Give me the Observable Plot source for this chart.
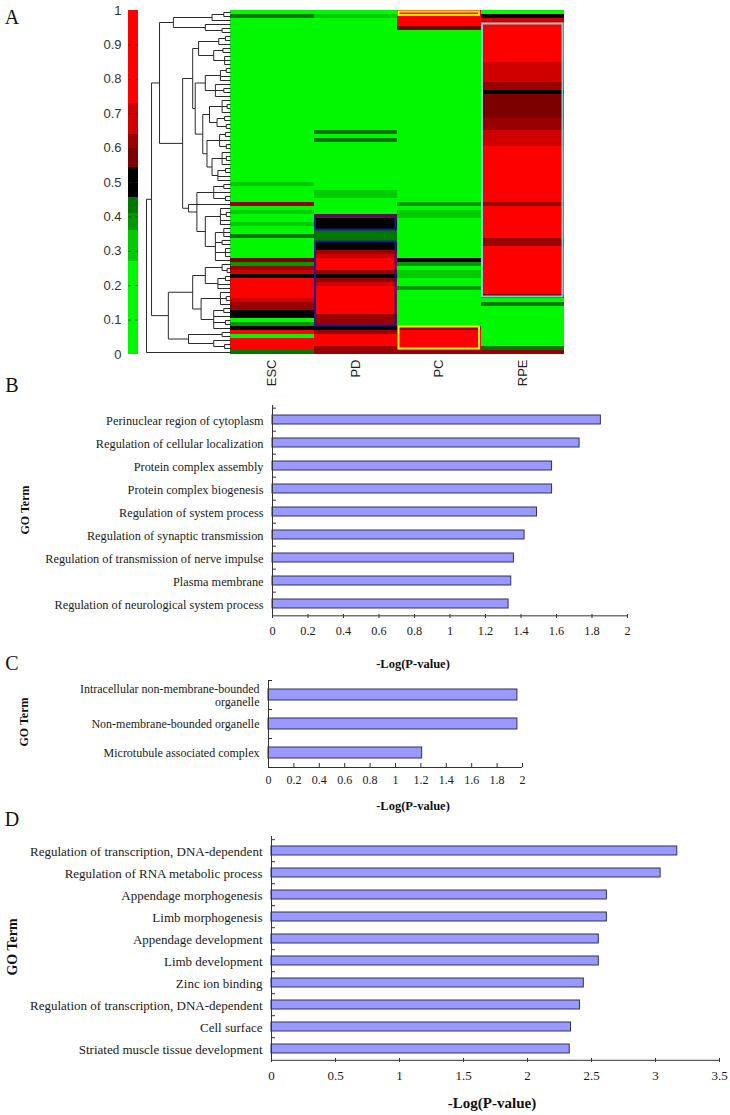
<!DOCTYPE html>
<html><head><meta charset="utf-8">
<script src="https://cdn.jsdelivr.net/npm/d3@7"></script>
<script src="https://cdn.jsdelivr.net/npm/@observablehq/plot@0.6"></script>
<style>
body{margin:0;background:#fff;}
#fig{position:relative;width:730px;height:1115px;overflow:hidden;background:#fff;}
.lbl{position:absolute;font-family:"Liberation Serif",serif;color:#111;white-space:nowrap;line-height:1;}
.rot{transform:translate(-50%,-50%) rotate(-90deg);}
.ctr{transform:translate(-50%,-50%);}
</style></head><body><div id="fig"></div>
<script>
// ---------------- DATA ----------------
const heatColumns = ["ESC", "PD", "PC", "RPE"];
const escValues = [
 0.1,0.42,0.1,0.1,0.1,0.1,0.1,0.1,0.1,0.1,
 0.1,0.1,0.1,0.1,0.1,0.1,0.1,0.1,0.1,0.1,
 0.1,0.1,0.1,0.1,0.1,0.1,0.1,0.1,0.1,0.1,
 0.1,0.1,0.1,0.1,0.1,0.1,0.1,0.1,0.1,0.1,
 0.1,0.1,0.1,0.3,0.1,0.1,0.1,0.1,0.6,0.1,
 0.3,0.1,0.1,0.32,0.1,0.1,0.42,0.1,0.1,0.1,
 0.1,0.1,0.55,0.4,0.6,0.65,0.5,0.85,0.85,0.85,
 0.85,0.85,0.7,0.6,0.6,0.5,0.5,0.1,0.4,0.5,
 0.85,0.25,0.85,0.85,0.85,0.42];
const pdValues = [
 0.1,0.3,0.1,0.1,0.1,0.1,0.1,0.1,0.1,0.1,
 0.1,0.1,0.1,0.1,0.1,0.1,0.1,0.1,0.1,0.1,
 0.1,0.1,0.1,0.1,0.1,0.1,0.1,0.1,0.1,0.1,
 0.42,0.1,0.42,0.1,0.1,0.1,0.1,0.1,0.1,0.1,
 0.1,0.1,0.1,0.1,0.1,0.3,0.3,0.1,0.1,0.1,
 0.1,0.6,0.5,0.5,0.5,0.45,0.42,0.42,0.5,0.5,
 0.6,0.65,0.85,0.85,0.85,0.62,0.5,0.6,0.65,0.85,
 0.85,0.85,0.85,0.75,0.75,0.75,0.6,0.6,0.6,0.52,
 0.6,0.85,0.85,0.85,0.6,0.6];
const pcValues = [
 0.85,0.85,0.8,0.8,0.55,0.1,0.1,0.1,0.1,0.1,
 0.1,0.1,0.1,0.1,0.1,0.1,0.1,0.1,0.1,0.1,
 0.1,0.1,0.1,0.1,0.1,0.1,0.1,0.1,0.1,0.1,
 0.1,0.1,0.1,0.1,0.1,0.1,0.1,0.1,0.1,0.1,
 0.1,0.1,0.1,0.1,0.1,0.1,0.1,0.1,0.4,0.1,
 0.32,0.32,0.1,0.1,0.1,0.1,0.1,0.1,0.1,0.1,
 0.1,0.1,0.5,0.4,0.1,0.32,0.32,0.1,0.1,0.4,
 0.1,0.1,0.1,0.1,0.1,0.1,0.1,0.1,0.1,0.6,
 0.85,0.85,0.85,0.85,0.85,0.6];
const rpeValues = [
 0.1,0.52,0.7,0.85,0.85,0.85,0.85,0.85,0.85,0.85,
 0.85,0.85,0.85,0.72,0.72,0.72,0.72,0.72,0.6,0.6,
 0.5,0.58,0.58,0.58,0.58,0.58,0.58,0.62,0.62,0.62,
 0.72,0.72,0.72,0.72,0.85,0.85,0.85,0.85,0.85,0.85,
 0.85,0.85,0.85,0.85,0.85,0.85,0.85,0.85,0.62,0.85,
 0.85,0.85,0.85,0.85,0.85,0.85,0.85,0.62,0.62,0.85,
 0.85,0.85,0.85,0.85,0.85,0.85,0.85,0.85,0.85,0.85,
 0.85,0.55,0.1,0.42,0.1,0.1,0.1,0.1,0.1,0.1,
 0.1,0.1,0.1,0.1,0.42,0.6];
const colorBreaks = [0.27, 0.36, 0.41, 0.455, 0.545, 0.6, 0.64, 0.73];
const colorRange = ["#00f800", "#00cc00", "#009a00", "#007800", "#000000", "#7c0000", "#990000", "#d00000", "#ff0000"];
const colorbarTicks = [0, 0.1, 0.2, 0.3, 0.4, 0.5, 0.6, 0.7, 0.8, 0.9, 1];
// highlighted clusters: column, first row, last row (row units), outline colour
const clusterColumn = ["PC", "RPE", "PD", "PD", "PC"];
const clusterRowStart = [0, 3, 51, 57.5, 78.75];
const clusterRowEnd = [1.6, 72, 55.25, 79.25, 85];
const clusterColor = ["#ffee00", "#7fd0d0", "#1a1a9a", "#1a1a9a", "#ffee00"];
// dendrogram: [merge height, children...], leaves are row indices
const dendroTree =
[1.0,
 [0.94,
  [0.845,
   [0.68, [0.22, [0.08, 0, 1], 2], [0.3, 3, [0.1, 4, 5]]],
   [0.57,
    [0.45,
     [0.38, [0.14, [0.06, 6, 7], 8], [0.2, [0.09, 9, 10], [0.07, 11, 12, 13]]],
     [0.42,
      [0.3, [0.12, [0.05, 14, 15], 16, 17], [0.18, 18, [0.08, 19, 20], 21]],
      [0.33,
       [0.25, [0.1, 22, [0.04, 23, 24], 25], [0.16, [0.07, 26, 27], [0.05, 28, 29]]],
       [0.28, [0.13, [0.06, 30, 31], 32, [0.05, 33, 34]], [0.22, [0.1, 35, [0.05, 36, 37], 38], [0.15, [0.06, 39, 40], 41, 42]]]]]],
    [0.5,
     [0.4, [0.2, [0.08, 43, 44], 45, [0.06, 46, 47]], [0.3, [0.12, 49, [0.05, 50, 51], 52, 53], [0.18, [0.08, 54, 55, 56], [0.1, 57, 58], [0.06, 59, 60, 61], 62]]],
     48]]],
  [0.74,
   [0.45,
    [0.3, [0.1, 63, [0.04, 64, 65]], [0.15, [0.06, 66, 67], 68, 69]],
    [0.35, [0.12, 70, [0.05, 71, 72], 73], [0.2, [0.08, 74, 75], 76, [0.06, 77, 78], 79]]],
   [0.5, [0.1, 80, 81], [0.2, 82, [0.07, 83, 84]]]]],
 85];

const termsB = ["Perinuclear region of cytoplasm", "Regulation of cellular localization", "Protein complex assembly",
  "Protein complex biogenesis", "Regulation of system process", "Regulation of synaptic transmission",
  "Regulation of transmission of nerve impulse", "Plasma membrane", "Regulation of neurological system process"];
const valuesB = [1.85, 1.73, 1.575, 1.575, 1.49, 1.42, 1.36, 1.345, 1.33];
const ticksB = [0, 0.2, 0.4, 0.6, 0.8, 1, 1.2, 1.4, 1.6, 1.8, 2];

const termsC = ["Intracellular non-membrane-bounded\norganelle", "Non-membrane-bounded organelle", "Microtubule associated complex"];
const valuesC = [1.96, 1.96, 1.21];
const ticksC = [0, 0.2, 0.4, 0.6, 0.8, 1, 1.2, 1.4, 1.6, 1.8, 2];

const termsD = ["Regulation of transcription, DNA-dependent", "Regulation of RNA metabolic process", "Appendage morphogenesis",
  "Limb morphogenesis", "Appendage development", "Limb development", "Zinc ion binding",
  "Regulation of transcription, DNA-dependent", "Cell surface", "Striated muscle tissue development"];
const valuesD = [3.17, 3.04, 2.62, 2.62, 2.557, 2.557, 2.44, 2.41, 2.34, 2.33];
const ticksD = [0, 0.5, 1, 1.5, 2, 2.5, 3, 3.5];

// ---------------- DRAWING ----------------
const fig = document.getElementById("fig");
function place(el, left, top) {
  el.style.position = "absolute"; el.style.left = left + "px"; el.style.top = top + "px";
  fig.appendChild(el);
}
function label(text, x, y, size, cls, weight) {
  const d = document.createElement("div");
  d.className = "lbl " + cls;
  d.textContent = text;
  d.style.left = x + "px"; d.style.top = y + "px";
  d.style.fontSize = size + "px";
  if (weight) d.style.fontWeight = weight;
  fig.appendChild(d);
}
const baseStyle = {background: "transparent", overflow: "visible"};
const nRows = escValues.length;
const colorScale = {type: "threshold", domain: colorBreaks, range: colorRange};

// heatmap
const cells = [];
[escValues, pdValues, pcValues, rpeValues].forEach((vals, c) =>
  vals.forEach((v, r) => cells.push({c, r, v})));
const boxes = clusterColumn.map((col, i) => ({c: heatColumns.indexOf(col), r1: clusterRowStart[i], r2: clusterRowEnd[i], color: clusterColor[i]}));
const heat = Plot.plot({
  width: 500, height: 400, marginLeft: 0, marginRight: 166, marginTop: 10, marginBottom: 46,
  x: {domain: [0, heatColumns.length], axis: null},
  y: {domain: [0, nRows], range: [10, 354], axis: null},
  color: colorScale,
  style: {...baseStyle, fontFamily: "'Liberation Sans', Arial, sans-serif", fontSize: "13px", color: "#222"},
  marks: [
    Plot.rect(cells, {x1: "c", x2: d => d.c + 1, y1: "r", y2: d => d.r + 1, fill: "v", shapeRendering: "crispEdges"}),
    Plot.rect(boxes, {x1: "c", x2: d => d.c + 1, y1: "r1", y2: "r2", stroke: d => d.color, fill: "none", strokeWidth: 2, inset: 1.5}),
    Plot.axisX({ticks: heatColumns.map((d, i) => i + 0.5), tickFormat: d => heatColumns[Math.floor(d)],
      tickRotate: -90, tickSize: 0, tickPadding: 5, label: null})
  ]
});
place(heat, 230, 0);

// dendrogram
const segs = [];
function layout(node) {
  if (typeof node === "number") return {h: 0, y: node + 0.5};
  const [h, ...kids] = node;
  const ks = kids.map(layout);
  const ys = ks.map(k => k.y);
  const lo = Math.min(...ys), hi = Math.max(...ys);
  segs.push({x1: h, y1: lo, x2: h, y2: hi});
  ks.forEach(k => segs.push({x1: k.h, y1: k.y, x2: h, y2: k.y}));
  return {h, y: (lo + hi) / 2};
}
layout(dendroTree);
const dendro = Plot.plot({
  width: 92, height: 400, marginLeft: 0, marginRight: 0, marginTop: 10, marginBottom: 46,
  x: {domain: [0, 1], range: [90, 6], axis: null},
  y: {domain: [0, nRows], range: [10, 354], axis: null},
  style: baseStyle,
  marks: [Plot.link(segs, {x1: "x1", y1: "y1", x2: "x2", y2: "y2", stroke: "#2a2a2a", strokeWidth: 1})]
});
place(dendro, 140, 0);

// colour bar
const bounds = [0, ...colorBreaks, 1];
const bins = bounds.slice(0, -1).map((b, i) => ({y1: b, y2: bounds[i + 1], mid: (b + bounds[i + 1]) / 2}));
const cbar = Plot.plot({
  width: 140, height: 400, marginLeft: 128, marginRight: 2, marginTop: 10, marginBottom: 46,
  x: {domain: [0, 1], axis: null},
  y: {domain: [0, 1], axis: null},
  color: colorScale,
  style: {...baseStyle, fontFamily: "'Liberation Sans', Arial, sans-serif", fontSize: "13px", color: "#333"},
  marks: [
    Plot.rect(bins, {x1: 0, x2: 1, y1: "y1", y2: "y2", fill: "mid", shapeRendering: "crispEdges"}),
    Plot.tickY(colorbarTicks.slice(1, -1), {y: d => d, stroke: "#222", strokeOpacity: 0.55, insetRight: 7}),
    Plot.tickY(colorbarTicks.slice(1, -1), {y: d => d, stroke: "#222", strokeOpacity: 0.55, insetLeft: 7}),
    Plot.axisY({ticks: colorbarTicks, tickFormat: d => String(+d.toFixed(1)), tickSize: 0, tickPadding: 7, label: null})
  ]
});
place(cbar, 0, 0);

// bar panels
function barPanel({terms, values, ticks, x0, x1, yTop, yBottom, svgTop, svgHeight, pad, fontSize}) {
  const n = terms.length;
  const step = (yBottom - yTop) / n;
  const data = terms.map((t, i) => ({k: i, v: values[i]}));
  const chart = Plot.plot({
    width: 730, height: svgHeight,
    marginLeft: x0, marginRight: 730 - x1, marginTop: yTop - svgTop, marginBottom: svgTop + svgHeight - yBottom,
    x: {domain: [ticks[0], ticks[ticks.length - 1]], axis: null},
    y: {domain: d3.range(n), paddingInner: pad, paddingOuter: pad / 2, axis: null},
    style: {...baseStyle, fontFamily: "'Liberation Serif', 'Times New Roman', serif", fontSize: fontSize + "px", color: "#1a1a1a"},
    marks: [
      Plot.barX(data, {x1: 0, x2: "v", y: "k", fill: "#9999ff", stroke: "#30305c", strokeWidth: 1}),
      Plot.ruleX([0], {stroke: "#333"}),
      Plot.ruleY([n - 1], {y: d => d, dy: step / 2, stroke: "#333"}),
      Plot.tickY(d3.range(n), {y: d => d, dy: -step / 2, insetRight: (x1 - x0) - 4, stroke: "#333"}),
      Plot.tickX(ticks, {x: d => d, insetTop: (yBottom - yTop) - 4, stroke: "#333"}),
      Plot.axisX({ticks, tickSize: 0, tickPadding: 8, tickFormat: d => String(d), label: null}),
      Plot.axisY({ticks: d3.range(n), tickSize: 0, tickPadding: 9, tickFormat: i => terms[i], label: null, lineHeight: 1.15})
    ]
  });
  place(chart, 0, svgTop);
}
barPanel({terms: termsB, values: valuesB, ticks: ticksB, x0: 272, x1: 627, yTop: 405, yBottom: 618, svgTop: 395, svgHeight: 255, pad: 0.6, fontSize: 12.3});
barPanel({terms: termsC, values: valuesC, ticks: ticksC, x0: 268, x1: 522, yTop: 680, yBottom: 767, svgTop: 670, svgHeight: 110, pad: 0.62, fontSize: 12});
barPanel({terms: termsD, values: valuesD, ticks: ticksD, x0: 271, x1: 719, yTop: 836, yBottom: 1062, svgTop: 826, svgHeight: 265, pad: 0.6, fontSize: 13});

// panel letters and axis titles
label("A", 12, 17, 20, "ctr");
label("B", 12, 385, 20, "ctr");
label("C", 12, 663, 20, "ctr");
label("D", 12, 819, 20, "ctr");
label("GO Term", 25, 510, 12, "rot", "bold");
label("GO Term", 24, 722, 12, "rot", "bold");
label("GO Term", 13, 947, 14, "rot", "bold");
label("-Log(P-value)", 413, 664, 12.5, "ctr", "bold");
label("-Log(P-value)", 413, 806, 12.5, "ctr", "bold");
label("-Log(P-value)", 492, 1103, 15, "ctr", "bold");
</script></body></html>
